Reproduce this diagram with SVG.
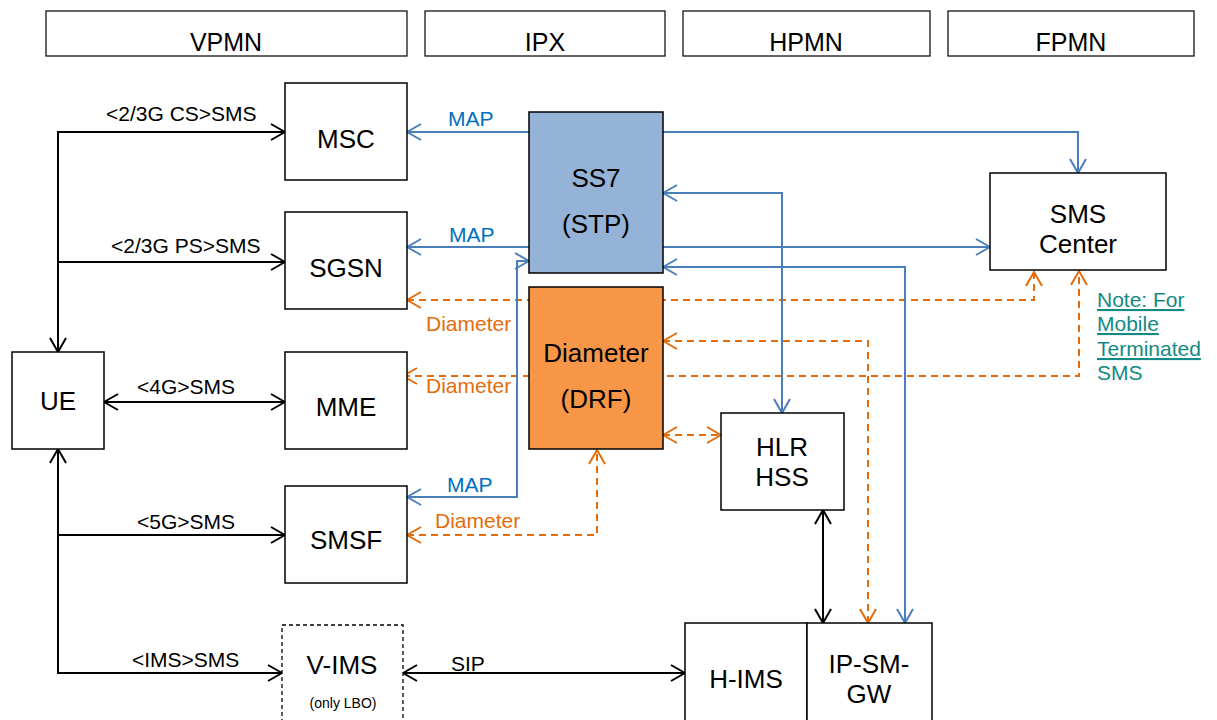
<svg xmlns="http://www.w3.org/2000/svg" width="1217" height="720" viewBox="0 0 1217 720">
<style>
text{font-family:"Liberation Sans",Arial,sans-serif;}
.box{fill:#fff;stroke:#000;stroke-width:1.5;}
.hdr{fill:#fff;stroke:#000;stroke-width:1.2;}
.nl{font-size:26px;fill:#000;text-anchor:middle;}
.hl{font-size:25px;fill:#000;text-anchor:middle;}
.el{font-size:21px;fill:#000;}
.ml{font-size:21px;fill:#0070C0;}
.dl{font-size:21px;fill:#E46C0A;}
.cb{fill:none;stroke:#000;stroke-width:2;}
.cu{fill:none;stroke:#4A7EBB;stroke-width:2;}
.co{fill:none;stroke:#E46C0A;stroke-width:2;stroke-dasharray:7,5;}
.note{font-size:21px;fill:#138A84;}
</style>
<defs>
<marker id="ab" viewBox="0 0 16 18" refX="15" refY="9" markerWidth="16" markerHeight="18" markerUnits="userSpaceOnUse" orient="auto-start-reverse"><path d="M1,1 L15,9 L1,17" fill="none" stroke="#000" stroke-width="2"/></marker>
<marker id="au" viewBox="0 0 16 18" refX="15" refY="9" markerWidth="16" markerHeight="18" markerUnits="userSpaceOnUse" orient="auto-start-reverse"><path d="M1,1 L15,9 L1,17" fill="none" stroke="#4A7EBB" stroke-width="2"/></marker>
<marker id="ao" viewBox="0 0 16 18" refX="15" refY="9" markerWidth="16" markerHeight="18" markerUnits="userSpaceOnUse" orient="auto-start-reverse"><path d="M1,1 L15,9 L1,17" fill="none" stroke="#E46C0A" stroke-width="2"/></marker>
</defs>
<rect width="1217" height="720" fill="#fff"/>

<g id="headers">
<g id="hdr-vpmn"><rect class="hdr" x="46" y="11" width="361" height="45"/><text class="hl" x="226" y="51">VPMN</text></g>
<g id="hdr-ipx"><rect class="hdr" x="425" y="11" width="240" height="45"/><text class="hl" x="545" y="51">IPX</text></g>
<g id="hdr-hpmn"><rect class="hdr" x="683" y="11" width="247" height="45"/><text class="hl" x="806" y="51">HPMN</text></g>
<g id="hdr-fpmn"><rect class="hdr" x="948" y="11" width="246" height="45"/><text class="hl" x="1071" y="51">FPMN</text></g>
</g>

<g id="connectors">
<!-- black -->
<path class="cb" d="M285,132 H58 V352" marker-start="url(#ab)" marker-end="url(#ab)"/>
<path class="cb" d="M58,262 H285" marker-end="url(#ab)"/>
<path class="cb" d="M104,402 H285" marker-start="url(#ab)" marker-end="url(#ab)"/>
<path class="cb" d="M58,449 V673 H282" marker-start="url(#ab)" marker-end="url(#ab)"/>
<path class="cb" d="M58,535 H285" marker-end="url(#ab)"/>
<path class="cb" d="M403,673 H685" marker-start="url(#ab)" marker-end="url(#ab)"/>
<path class="cb" d="M823,510 V623" marker-start="url(#ab)" marker-end="url(#ab)"/>
<!-- orange dashed -->
<path class="co" d="M407,300 H1034 V272" marker-start="url(#ao)" marker-end="url(#ao)"/>
<path class="co" d="M403,376 H1079 V271" marker-start="url(#ao)" marker-end="url(#ao)"/>
<path class="co" d="M663,341 H868 V623" marker-start="url(#ao)" marker-end="url(#ao)"/>
<path class="co" d="M663,435 H721" marker-start="url(#ao)" marker-end="url(#ao)"/>
<path class="co" d="M407,535 H597 V450" marker-start="url(#ao)" marker-end="url(#ao)"/>
<!-- blue -->
<path class="cu" d="M529,132 H407" marker-end="url(#au)"/>
<path class="cu" d="M529,247 H407" marker-end="url(#au)"/>
<path class="cu" d="M407,497 H517 V261 H529" marker-start="url(#au)" marker-end="url(#au)"/>
<path class="cu" d="M663,132 H1078 V173" marker-end="url(#au)"/>
<path class="cu" d="M663,247 H990" marker-end="url(#au)"/>
<path class="cu" d="M663,193 H782 V413" marker-start="url(#au)" marker-end="url(#au)"/>
<path class="cu" d="M663,267 H905 V623" marker-start="url(#au)" marker-end="url(#au)"/>
<!-- labels -->
<text class="el" x="106" y="121">&lt;2/3G CS&gt;SMS</text>
<text class="el" x="111" y="253">&lt;2/3G PS&gt;SMS</text>
<text class="el" x="137" y="394">&lt;4G&gt;SMS</text>
<text class="el" x="137" y="529">&lt;5G&gt;SMS</text>
<text class="el" x="132" y="667">&lt;IMS&gt;SMS</text>
<text class="el" x="451" y="671">SIP</text>
<text class="ml" x="448" y="126">MAP</text>
<text class="ml" x="449" y="242">MAP</text>
<text class="ml" x="447" y="492">MAP</text>
<text class="dl" x="426" y="331">Diameter</text>
<text class="dl" x="426" y="393">Diameter</text>
<text class="dl" x="435" y="528">Diameter</text>
</g>

<g id="ue"><rect class="box" x="12" y="352" width="92" height="97"/><text class="nl" x="58" y="410">UE</text></g>
<g id="msc"><rect class="box" x="285" y="83" width="122" height="97"/><text class="nl" x="346" y="148">MSC</text></g>
<g id="sgsn"><rect class="box" x="285" y="212" width="122" height="97"/><text class="nl" x="346" y="277">SGSN</text></g>
<g id="mme"><rect class="box" x="285" y="352" width="122" height="97"/><text class="nl" x="346" y="416">MME</text></g>
<g id="smsf"><rect class="box" x="285" y="486" width="122" height="97"/><text class="nl" x="346" y="549">SMSF</text></g>
<g id="vims"><rect x="282" y="625" width="121" height="110" fill="#fff" stroke="#000" stroke-width="1.3" stroke-dasharray="4,3"/><text class="nl" x="342" y="674">V-IMS</text><text x="343" y="708" font-size="14" text-anchor="middle">(only LBO)</text></g>
<g id="ss7"><rect x="529" y="112" width="134" height="161" fill="#95B3D7" stroke="#000" stroke-width="1.5"/><text class="nl" x="596" y="187">SS7</text><text class="nl" x="596" y="233">(STP)</text></g>
<g id="drf"><rect x="529" y="287" width="134" height="162" fill="#F79646" stroke="#000" stroke-width="1.5"/><text class="nl" x="596" y="362">Diameter</text><text class="nl" x="596" y="408">(DRF)</text></g>
<g id="smsc"><rect class="box" x="990" y="173" width="176" height="97"/><text class="nl" x="1078" y="223">SMS</text><text class="nl" x="1078" y="253">Center</text></g>
<g id="hlr"><rect class="box" x="721" y="413" width="123" height="97"/><text class="nl" x="782" y="456">HLR</text><text class="nl" x="782" y="486">HSS</text></g>
<g id="hims"><rect class="box" x="685" y="623" width="122" height="110"/><text class="nl" x="746" y="688">H-IMS</text></g>
<g id="ipsmgw"><rect class="box" x="807" y="623" width="125" height="110"/><text class="nl" x="869" y="673">IP-SM-</text><text class="nl" x="869" y="703">GW</text></g>

<g id="note">
<text class="note" x="1097" y="307" text-decoration="underline">Note: For</text>
<text class="note" x="1097" y="331" text-decoration="underline">Mobile</text>
<text class="note" x="1097" y="356" text-decoration="underline">Terminated</text>
<text class="note" x="1097" y="380">SMS</text>
</g>
</svg>
